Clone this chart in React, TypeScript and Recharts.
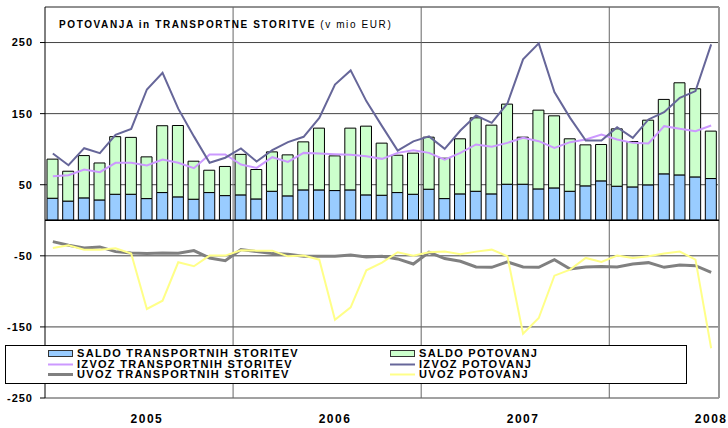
import React from 'react';
import {
  ComposedChart,
  Bar,
  Line,
  XAxis,
  YAxis,
  CartesianGrid,
  ReferenceLine,
  Legend
} from 'recharts';

// monthly values, Jan 2005 - Jul 2008 (v mio EUR)
const years = ['2005', '2006', '2007', '2008'];

const saldoTransport = [
  31, 27, 31.5, 28.6, 36.6, 36.6, 30.5, 39, 32.9, 29.6, 39, 34.7,
  35.7, 30, 40.8, 34.3, 42.7, 42.7, 41.8, 42.7, 35.7, 35.2, 39, 36.6,
  43.7, 30.5, 37.1, 40.8, 37.1, 50.7, 50.7, 44.1, 45.5, 40.8, 48.4, 55.4,
  47.9, 46.9, 49.8, 65.3, 63.8, 61, 58.7
];

const saldoPotovanj = [
  55, 42, 59.5, 52, 81, 80, 58.7, 94, 100.4, 53.5, 31.4, 41,
  57, 41.4, 55.4, 57.7, 67.6, 86.9, 48.8, 86.9, 96.7, 73.3, 52.5, 57.8,
  73.2, 56.8, 77.5, 103.3, 96.7, 112.7, 66.2, 110.8, 101.4, 73.8, 57.7, 51.2,
  80.7, 63.9, 91, 104.7, 129.6, 124, 66.7
];

const izvozTransport = [
  62, 63.4, 71.4, 67.6, 80.8, 80.8, 77, 85.4, 80.8, 73.2, 92.5, 92.5,
  78.4, 73.7, 88.7, 82.2, 94.8, 93.9, 93, 92, 90.1, 86.4, 94.8, 98.6,
  94.8, 85.4, 94.8, 106.6, 103.3, 108.9, 116, 111.3, 101.9, 109.9, 113.6, 120.7,
  113.6, 108.9, 108, 132.4, 128.6, 125.4, 133.3
];

const izvozPotovanj = [
  94, 77.5, 101.4, 94.4, 120.2, 128.6, 184, 207.5, 157, 118, 81, 88,
  101, 82.6, 98.6, 110, 117.4, 144, 191, 210.8, 167.6, 132.4, 98, 111,
  118, 100.5, 126.3, 147.4, 137.1, 164.3, 226.3, 248.8, 180.3, 144.1, 112.2, 112.2,
  131, 116, 141.8, 152.1, 172.3, 181.7, 247.4
];

const uvozTransport = [
  -30, -35.2, -38.9, -37.5, -44.1, -46, -46.9, -46, -46.5, -42.7, -53, -56.8,
  -41.3, -44.1, -46.9, -47.8, -50.7, -50.7, -50.7, -48.8, -51.6, -50.7, -54.4, -61.5,
  -45, -53.9, -57.7, -65.7, -66.2, -58.6, -65.7, -66.2, -55.4, -68.5, -65.7, -65.2,
  -65.7, -61.5, -59.6, -66.2, -62.9, -63.8, -73.2
];

const uvozPotovanj = [
  -38.9, -35.2, -41.3, -41.3, -39.4, -46.9, -124.8, -113.1, -59.1, -64.7, -49.7, -49.7,
  -42.2, -42.7, -42.7, -50.7, -49.7, -55.4, -139.9, -122.5, -70.4, -59.5, -45, -49.7,
  -45, -44.1, -47.8, -44.1, -41.3, -50.7, -159.6, -137.5, -77.9, -69.4, -53, -58.6,
  -49.7, -53, -50.7, -46.9, -44.1, -55.4, -180
];

const yTicks = [-250, -150, -50, 50, 150, 250];

const data = saldoTransport.map((v, i) => ({
  m: i,
  saldoTransport: v,
  saldoPotovanj: saldoPotovanj[i],
  izvozTransport: izvozTransport[i],
  izvozPotovanj: izvozPotovanj[i],
  uvozTransport: uvozTransport[i],
  uvozPotovanj: uvozPotovanj[i]
}));

const FONT = '"Liberation Sans", Arial, sans-serif';

const legendCols = [
  [
    { name: 'SALDO TRANSPORTNIH STORITEV', color: '#99CCFF', bar: true, w: 0 },
    { name: 'IZVOZ TRANSPORTNIH STORITEV', color: '#CC99FF', bar: false, w: 2 },
    { name: 'UVOZ TRANSPORTNIH STORITEV', color: '#808080', bar: false, w: 3 }
  ],
  [
    { name: 'SALDO POTOVANJ', color: '#CCFFCC', bar: true, w: 0 },
    { name: 'IZVOZ POTOVANJ', color: '#666699', bar: false, w: 2 },
    { name: 'UVOZ POTOVANJ', color: '#FFFF88', bar: false, w: 2 }
  ]
];

const renderLegend = () => (
  <div
    style={{
      position: 'relative',
      width: 682,
      height: 39,
      boxSizing: 'border-box',
      border: '1px solid #000',
      background: '#fff',
      fontFamily: FONT,
      fontWeight: 'bold',
      fontSize: 11,
      letterSpacing: 1.3,
      color: '#000'
    }}
  >
    {legendCols.map((col, c) =>
      col.map((item, r) => (
        <div
          key={item.name}
          style={{
            position: 'absolute',
            left: c === 0 ? 42 : 384,
            top: 2 + r * 10.7,
            height: 11,
            display: 'flex',
            alignItems: 'center',
            whiteSpace: 'nowrap',
            lineHeight: '11px'
          }}
        >
          <svg width={25} height={9} style={{ marginRight: 4 }}>
            {item.bar ? (
              <rect x={0.5} y={1.5} width={24} height={6} fill={item.color} stroke="#333" />
            ) : (
              <line x1={0} x2={25} y1={4.5} y2={4.5} stroke={item.color} strokeWidth={item.w} />
            )}
          </svg>
          {item.name}
        </div>
      ))
    )}
  </div>
);

const YearTick = (props: any) => {
  const { x, y, payload } = props;
  return (
    <text
      x={x}
      y={y}
      dy={17}
      textAnchor="middle"
      fontFamily={FONT}
      fontWeight="bold"
      fontSize={12}
      letterSpacing={1.5}
      fill="#000"
    >
      {years[Math.floor(payload.value / 12)]}
    </text>
  );
};

export default function App() {
  return (
    <div style={{ position: 'absolute', left: 0, top: 0, width: 728, height: 428, background: '#fff' }}>
      <ComposedChart
        width={728}
        height={428}
        data={data}
        margin={{ top: 7, right: 9, bottom: 0, left: 0 }}
      >
        <CartesianGrid vertical={false} stroke="#444" />
        <XAxis
          type="number"
          dataKey="m"
          domain={[-0.5, 42.5]}
          ticks={[6, 18, 30, 42]}
          axisLine={false}
          tickLine={false}
          height={30}
          tick={<YearTick />}
          allowDataOverflow
        />
        <YAxis
          type="number"
          domain={[-250, 300]}
          ticks={yTicks}
          width={45}
          axisLine={{ stroke: '#000' }}
          tickLine={{ stroke: '#000' }}
          tickSize={5}
          tickMargin={7}
          interval={0}
          tick={{ fill: '#000', fontFamily: FONT, fontWeight: 'bold', fontSize: 11, letterSpacing: 1 }}
          allowDataOverflow
        />
        <ReferenceLine y={300} stroke="#808080" />
        <ReferenceLine x={42.5} stroke="#999" strokeWidth={2} />
        {[11.5, 23.5, 35.5].map((x) => (
          <ReferenceLine key={x} x={x} stroke="#666" />
        ))}
        <Bar
          dataKey="saldoTransport"
          stackId="a"
          fill="#99CCFF"
          stroke="#000"
          strokeWidth={1}
          barSize={11}
          isAnimationActive={false}
        />
        <Bar
          dataKey="saldoPotovanj"
          stackId="a"
          fill="#CCFFCC"
          stroke="#000"
          strokeWidth={1}
          barSize={11}
          isAnimationActive={false}
        />
        <ReferenceLine y={0} stroke="#000" strokeWidth={1.5} />
        <Line dataKey="izvozTransport" stroke="#CC99FF" strokeWidth={2} dot={false} isAnimationActive={false} />
        <Line dataKey="izvozPotovanj" stroke="#666699" strokeWidth={2} dot={false} isAnimationActive={false} />
        <Line dataKey="uvozTransport" stroke="#808080" strokeWidth={3} dot={false} isAnimationActive={false} />
        <Line dataKey="uvozPotovanj" stroke="#FFFF88" strokeWidth={2} dot={false} isAnimationActive={false} />
        <Legend
          layout="vertical"
          align="center"
          verticalAlign="middle"
          content={renderLegend}
          wrapperStyle={{ left: 5, top: 345, width: 682, height: 39 }}
        />
      </ComposedChart>
      <div
        style={{
          position: 'absolute',
          left: 59,
          top: 19,
          fontFamily: FONT,
          fontSize: 10,
          lineHeight: '12px',
          letterSpacing: 1.6,
          whiteSpace: 'nowrap',
          color: '#000'
        }}
      >
        <b>POTOVANJA in TRANSPORTNE STORITVE</b> (v mio EUR)
      </div>
    </div>
  );
}
